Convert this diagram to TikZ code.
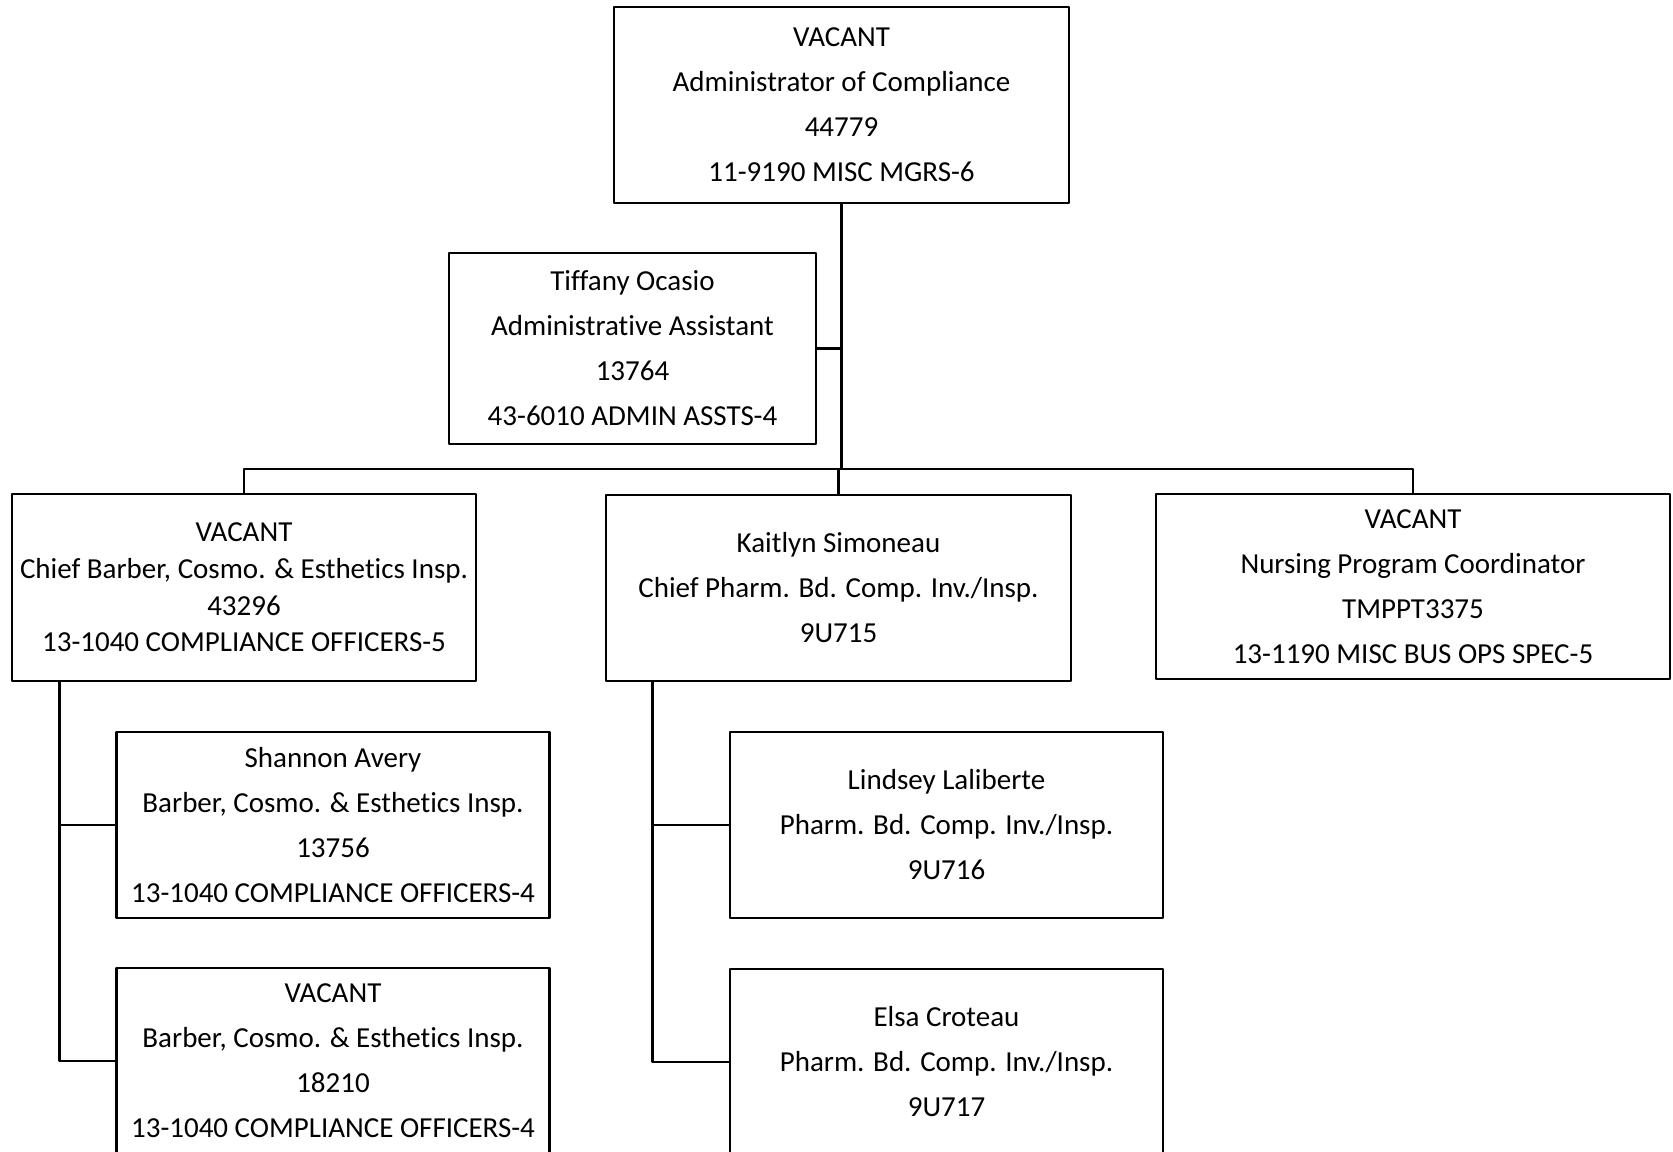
\documentclass[tikz,border=0pt]{standalone}
\usepackage{fontspec}
\setmainfont{Carlito}[Ligatures=NoCommon]
\begin{document}
\begin{tikzpicture}[x=0.02cm, y=-0.02cm, line join=round,
	post/.style={draw, line width=1.6pt, align=center, inner sep=0pt, font=\fontsize{16.5}{25.6}\selectfont},
	link/.style={line width=1.4pt}]
	\useasboundingbox (0,0) rectangle (1673,1152);
	
	\node[post, minimum width=9.10cm, minimum height=3.92cm] (admin) at (841.5,105) {VACANT\\Administrator of Compliance\\44779\\11-9190 MISC MGRS-6};
	\node[post, line width=1.3pt, minimum width=7.34cm, minimum height=3.82cm] (asst) at (632.5,348.5) {Tiffany Ocasio\\Administrative Assistant\\13764\\43-6010 ADMIN ASSTS-4};
	
	\node[post, minimum width=9.28cm, minimum height=3.74cm, font=\fontsize{16.5}{20.8}\selectfont] (chief) at (244,587.5) {VACANT\\Chief Barber, Cosmo. \& Esthetics Insp.\\43296\\13-1040 COMPLIANCE OFFICERS-5};
	\node[post, minimum width=9.30cm, minimum height=3.72cm] (pharm) at (838.5,588) {Kaitlyn Simoneau\\Chief Pharm. Bd. Comp. Inv./Insp.\\9U715};
	\node[post, line width=1.3pt, minimum width=10.28cm, minimum height=3.70cm] (nurse) at (1413,586.5) {VACANT\\Nursing Program Coordinator\\TMPPT3375\\13-1190 MISC BUS OPS SPEC-5};
	
	\node[post, minimum width=8.66cm, minimum height=3.72cm] (barb1) at (333,825) {Shannon Avery\\Barber, Cosmo. \& Esthetics Insp.\\13756\\13-1040 COMPLIANCE OFFICERS-4};
	\node[post, minimum width=8.66cm, minimum height=3.72cm] (barb2) at (333,1061) {VACANT\\Barber, Cosmo. \& Esthetics Insp.\\18210\\13-1040 COMPLIANCE OFFICERS-4};
	\node[post, minimum width=8.66cm, minimum height=3.72cm] (insp1) at (946.5,825) {Lindsey Laliberte\\Pharm. Bd. Comp. Inv./Insp.\\9U716};
	\node[post, minimum width=8.66cm, minimum height=3.72cm] (insp2) at (946.5,1062) {Elsa Croteau\\Pharm. Bd. Comp. Inv./Insp.\\9U717};
	
	\coordinate (bus) at (842,469);
	\coordinate (ctrunk) at ([xshift=0.98cm]chief.south west);
	\coordinate (ptrunk) at ([xshift=0.96cm]pharm.south west);
	
	\draw[link] (admin.south) -- (admin.south |- bus);
	\draw[link] (asst.east) -- (asst.east -| admin.south);
	\draw[link] (chief.north) |- (bus) -| (nurse.north);
	\draw[link] (pharm.north) -- (pharm.north |- bus);
	
	\draw[link] (ctrunk) |- (barb1.west) (ctrunk) |- (barb2.west);
	\draw[link] (ptrunk) |- (insp1.west) (ptrunk) |- (insp2.west);
\end{tikzpicture}
\end{document}
